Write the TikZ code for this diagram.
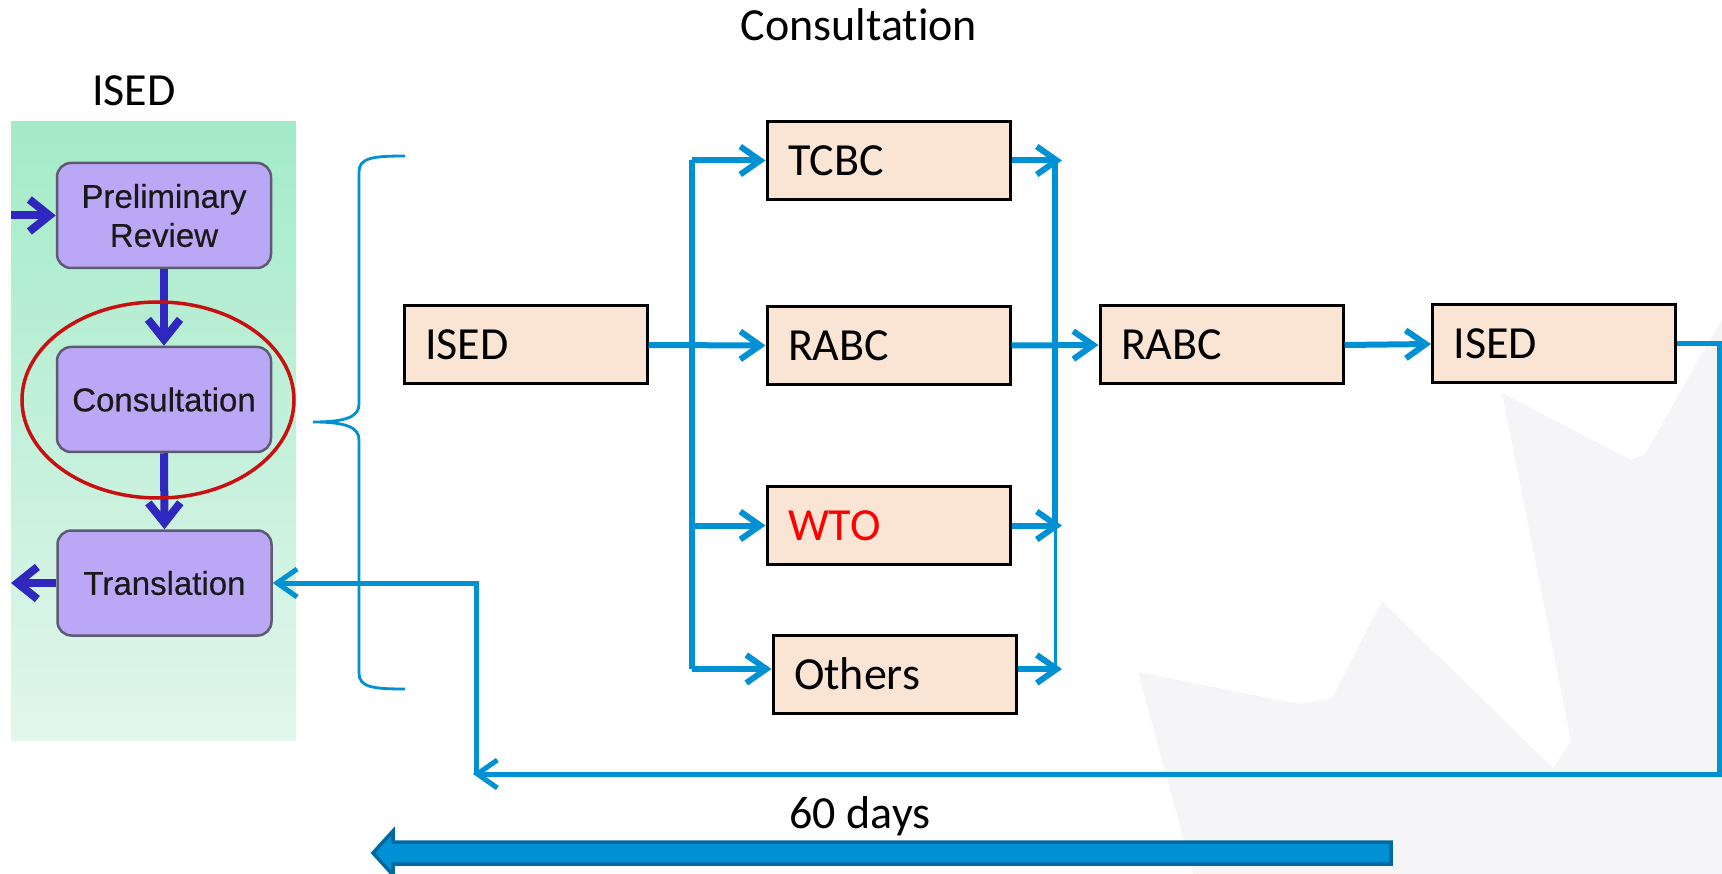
\documentclass[tikz,border=0pt]{standalone}
\usepackage{fontspec}
\setmainfont{Carlito}[Ligatures=NoCommon]
\newfontfamily\arialf{Liberation Sans}[FakeBold=0.4]
\usetikzlibrary{arrows.meta,shapes.geometric}
\definecolor{lblue}{RGB}{0,145,213}
\definecolor{peach}{RGB}{250,229,213}
\definecolor{purp}{RGB}{186,168,246}
\definecolor{purpedge}{RGB}{95,90,115}
\definecolor{dblue}{RGB}{48,40,190}
\definecolor{ellred}{RGB}{200,16,16}
\definecolor{leafgray}{RGB}{245,245,247}
\definecolor{bigedge}{RGB}{0,106,160}
\definecolor{bigfill}{RGB}{0,145,213}
\definecolor{panTop}{RGB}{163,235,200}
\definecolor{panBot}{RGB}{226,246,236}
\begin{document}
\begin{tikzpicture}[x=1pt,y=-1pt,
  bigfont/.style={font=\fontsize{46}{50}\selectfont},
  pbox/.style={draw=black,line width=3pt,fill=peach,minimum height=78pt,
    text width=201pt,inner xsep=21pt,inner ysep=0pt,align=left,
    text height=30pt,text depth=0pt,bigfont},
  purpbox/.style={draw=purpedge,line width=2.5pt,fill=purp,rounded corners=14pt,
    minimum width=214pt,minimum height=105pt,align=center,text=black!90,
    font=\arialf\fontsize{33}{39}\selectfont},
  conn/.style={draw=lblue,line width=6pt},
  barb/.style={-{Straight Barb[length=20pt,width=28pt]}},
  parrow/.style={draw=dblue,line width=8pt,-{Straight Barb[length=20pt,width=32pt]}}
]
\useasboundingbox (0,0) rectangle (1722,874);
% watermark leaf
\fill[leafgray] (1722,320) -- (1704,350) -- (1645,454) -- (1631,460) -- (1502,393)
  -- (1571,741) -- (1553,768) -- (1382,601) -- (1332,698) -- (1299,704)
  -- (1138,672) -- (1193,874) -- (1722,874) -- cycle;
% ISED panel
\shade[top color=panTop,bottom color=panBot] (11,122) rectangle (296,740);
\node[purpbox] (prelim) at (164,215.5) {Preliminary\\Review};
\node[purpbox] (consult) at (164,399.5) {Consultation};
\node[purpbox] (transl) at (164.5,583) {Translation};
\coordinate (pin) at (11,215.5);
\coordinate (pout) at (11,583);
\draw[parrow] (pin) -- (prelim.west);
\draw[parrow] (prelim.south) -- (consult.north);
\draw[parrow] (consult.south) -- (transl.north);
\draw[parrow] (transl.west) -- (pout);
\node[ellipse,draw=ellred,line width=3.5pt,minimum width=272pt,minimum height=196pt] (ring) at (158,400) {};
% titles
\node[bigfont] (isedtitle) at (134,91) {ISED};
\node[bigfont] (constitle) at (859,25) {Consultation};
\node[bigfont] (days) at (860,816) {60 days};
% brace
\draw[lblue,line width=2.8pt] (405,156) .. controls (372,156) and (359,158) .. (359,172)
  -- (359,404) .. controls (359,416) and (348,422) .. (313,422)
  .. controls (348,422) and (359,428) .. (359,440)
  -- (359,673) .. controls (359,687) and (372,689) .. (405,689);
% boxes
\node[pbox] (ised1) at (525.5,345) {ISED};
\node[pbox] (tcbc) at (888.5,160.5) {TCBC};
\node[pbox] (rabc1) at (888.5,345.5) {RABC};
\node[pbox,text=red] (wto) at (888.5,525.5) {WTO};
\node[pbox] (others) at (894.5,674.5) {Others};
\node[pbox] (rabc2) at (1221.5,345) {RABC};
\node[pbox] (ised2) at (1554,344) {ISED};
% left bus
\coordinate (lbT) at (692,160.5);
\coordinate (lbW) at (692,525.5);
\coordinate (lbB) at (692,669);
\draw[conn] (lbT) -- (lbB);
\draw[conn,barb] (lbT) -- (tcbc.west);
\draw[conn,barb] (ised1.east) -- (rabc1.west);
\draw[conn,barb] (lbW) -- (wto.west);
\draw[conn,barb] (lbB) -- (others.west |- lbB);
% right bus
\coordinate (rT) at (1062,160.5);
\coordinate (rW) at (1062,525.5);
\coordinate (rO) at (1062,669);
\coordinate (rbT) at (1055,160.5);
\coordinate (rbW) at (1055,525.5);
\coordinate (rbB) at (1055,669);
\draw[conn] (rbT) -- (rbW);
\draw[draw=lblue,line width=3pt] (rbW) -- (rbB);
\draw[conn,barb] (tcbc.east) -- (rT);
\draw[conn,barb] (wto.east) -- (rW);
\draw[conn,barb] (others.east |- rO) -- (rO);
\draw[conn,barb] (rabc1.east) -- (rabc2.west);
\draw[conn,barb] (rabc2.east) -- (ised2.west);
% return loop
\coordinate (c2) at (1719,774);
\coordinate (c3) at (473,774);
\coordinate (c4) at (476,774);
\draw[conn,line width=5pt,barb] (ised2.east) -| (c2) -- (c3);
\draw[conn,line width=5pt,barb] (c4) |- (transl.east);
% 60 days arrow
\draw[bigedge,fill=bigfill,line width=3.5pt,line join=miter]
  (1391,842) -- (393,842) -- (393,831) -- (373,853) -- (393,875) -- (393,864) -- (1391,864) -- cycle;
\end{tikzpicture}
\end{document}
